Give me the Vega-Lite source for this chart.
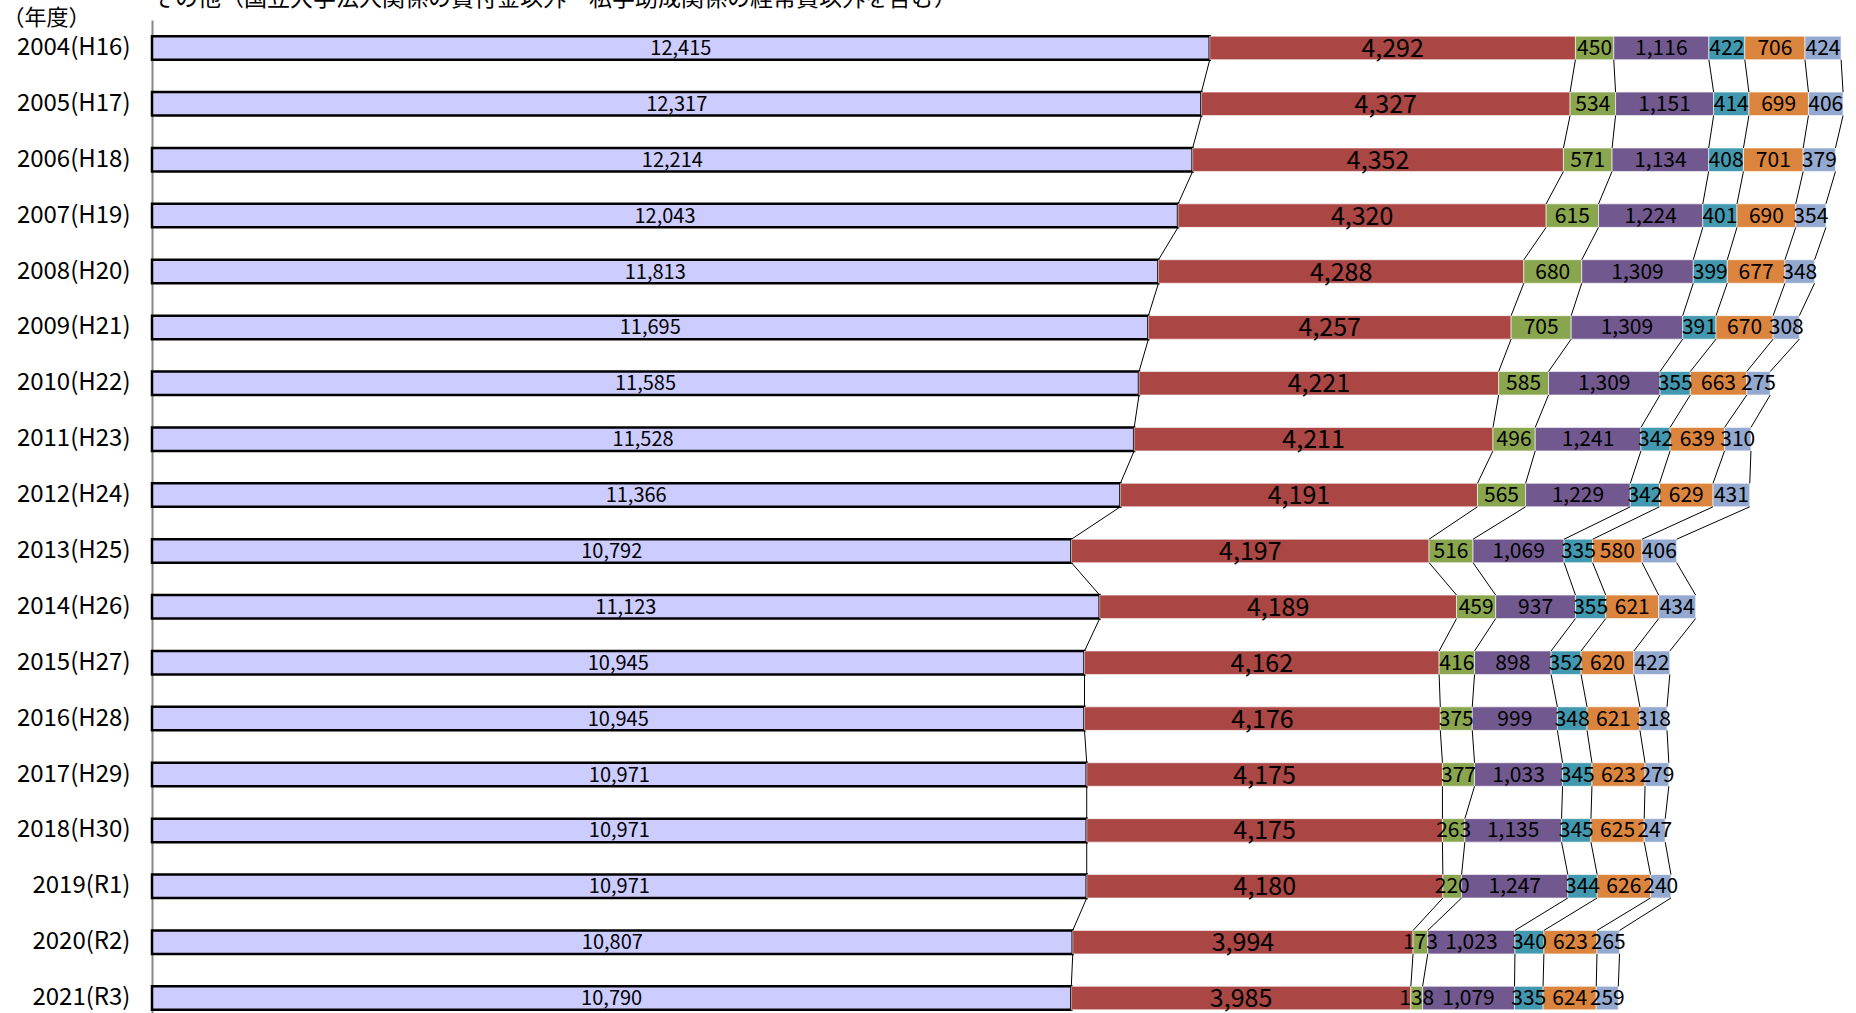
{
  "$schema": "https://vega.github.io/schema/vega-lite/v6.json",
  "autosize": {"type": "none"},
  "width": 1704,
  "height": 993,
  "padding": {"left": 152, "top": 20, "right": 0, "bottom": 0},
  "background": "#ffffff",
  "config": {
    "view": {"stroke": null},
    "font": "Noto Sans CJK JP",
    "text": {"font": "Noto Sans CJK JP"},
    "axisY": {
      "titleAngle": 0,
      "titleX": -150,
      "titleY": -3,
      "titleAlign": "left",
      "titleBaseline": "middle",
      "titleFont": "Noto Sans CJK JP",
      "titleFontSize": 22,
      "titleFontWeight": "normal",
      "titleColor": "#000000",
      "labelFont": "Noto Sans CJK JP",
      "labelFontSize": 24,
      "labelColor": "#000000",
      "labelPadding": 22,
      "ticks": false,
      "grid": false,
      "domainColor": "#888888",
      "domainWidth": 2
    }
  },
  "title": {
    "text": "その他（国立大学法人関係の貸付金以外・私学助成関係の経常費以外を含む）",
    "anchor": "start",
    "frame": "group",
    "font": "Noto Sans CJK JP",
    "fontSize": 23,
    "fontWeight": "normal",
    "color": "#000000",
    "baseline": "alphabetic",
    "offset": 0,
    "dy": 23
  },
  "data": {
    "values": [
      {"year": "2004(H16)", "cat": "s1", "value": 12415}, {"year": "2004(H16)", "cat": "s2", "value": 4292}, {"year": "2004(H16)", "cat": "s3", "value": 450}, {"year": "2004(H16)", "cat": "s4", "value": 1116}, {"year": "2004(H16)", "cat": "s5", "value": 422}, {"year": "2004(H16)", "cat": "s6", "value": 706}, {"year": "2004(H16)", "cat": "s7", "value": 424},
      {"year": "2005(H17)", "cat": "s1", "value": 12317}, {"year": "2005(H17)", "cat": "s2", "value": 4327}, {"year": "2005(H17)", "cat": "s3", "value": 534}, {"year": "2005(H17)", "cat": "s4", "value": 1151}, {"year": "2005(H17)", "cat": "s5", "value": 414}, {"year": "2005(H17)", "cat": "s6", "value": 699}, {"year": "2005(H17)", "cat": "s7", "value": 406},
      {"year": "2006(H18)", "cat": "s1", "value": 12214}, {"year": "2006(H18)", "cat": "s2", "value": 4352}, {"year": "2006(H18)", "cat": "s3", "value": 571}, {"year": "2006(H18)", "cat": "s4", "value": 1134}, {"year": "2006(H18)", "cat": "s5", "value": 408}, {"year": "2006(H18)", "cat": "s6", "value": 701}, {"year": "2006(H18)", "cat": "s7", "value": 379},
      {"year": "2007(H19)", "cat": "s1", "value": 12043}, {"year": "2007(H19)", "cat": "s2", "value": 4320}, {"year": "2007(H19)", "cat": "s3", "value": 615}, {"year": "2007(H19)", "cat": "s4", "value": 1224}, {"year": "2007(H19)", "cat": "s5", "value": 401}, {"year": "2007(H19)", "cat": "s6", "value": 690}, {"year": "2007(H19)", "cat": "s7", "value": 354},
      {"year": "2008(H20)", "cat": "s1", "value": 11813}, {"year": "2008(H20)", "cat": "s2", "value": 4288}, {"year": "2008(H20)", "cat": "s3", "value": 680}, {"year": "2008(H20)", "cat": "s4", "value": 1309}, {"year": "2008(H20)", "cat": "s5", "value": 399}, {"year": "2008(H20)", "cat": "s6", "value": 677}, {"year": "2008(H20)", "cat": "s7", "value": 348},
      {"year": "2009(H21)", "cat": "s1", "value": 11695}, {"year": "2009(H21)", "cat": "s2", "value": 4257}, {"year": "2009(H21)", "cat": "s3", "value": 705}, {"year": "2009(H21)", "cat": "s4", "value": 1309}, {"year": "2009(H21)", "cat": "s5", "value": 391}, {"year": "2009(H21)", "cat": "s6", "value": 670}, {"year": "2009(H21)", "cat": "s7", "value": 308},
      {"year": "2010(H22)", "cat": "s1", "value": 11585}, {"year": "2010(H22)", "cat": "s2", "value": 4221}, {"year": "2010(H22)", "cat": "s3", "value": 585}, {"year": "2010(H22)", "cat": "s4", "value": 1309}, {"year": "2010(H22)", "cat": "s5", "value": 355}, {"year": "2010(H22)", "cat": "s6", "value": 663}, {"year": "2010(H22)", "cat": "s7", "value": 275},
      {"year": "2011(H23)", "cat": "s1", "value": 11528}, {"year": "2011(H23)", "cat": "s2", "value": 4211}, {"year": "2011(H23)", "cat": "s3", "value": 496}, {"year": "2011(H23)", "cat": "s4", "value": 1241}, {"year": "2011(H23)", "cat": "s5", "value": 342}, {"year": "2011(H23)", "cat": "s6", "value": 639}, {"year": "2011(H23)", "cat": "s7", "value": 310},
      {"year": "2012(H24)", "cat": "s1", "value": 11366}, {"year": "2012(H24)", "cat": "s2", "value": 4191}, {"year": "2012(H24)", "cat": "s3", "value": 565}, {"year": "2012(H24)", "cat": "s4", "value": 1229}, {"year": "2012(H24)", "cat": "s5", "value": 342}, {"year": "2012(H24)", "cat": "s6", "value": 629}, {"year": "2012(H24)", "cat": "s7", "value": 431},
      {"year": "2013(H25)", "cat": "s1", "value": 10792}, {"year": "2013(H25)", "cat": "s2", "value": 4197}, {"year": "2013(H25)", "cat": "s3", "value": 516}, {"year": "2013(H25)", "cat": "s4", "value": 1069}, {"year": "2013(H25)", "cat": "s5", "value": 335}, {"year": "2013(H25)", "cat": "s6", "value": 580}, {"year": "2013(H25)", "cat": "s7", "value": 406},
      {"year": "2014(H26)", "cat": "s1", "value": 11123}, {"year": "2014(H26)", "cat": "s2", "value": 4189}, {"year": "2014(H26)", "cat": "s3", "value": 459}, {"year": "2014(H26)", "cat": "s4", "value": 937}, {"year": "2014(H26)", "cat": "s5", "value": 355}, {"year": "2014(H26)", "cat": "s6", "value": 621}, {"year": "2014(H26)", "cat": "s7", "value": 434},
      {"year": "2015(H27)", "cat": "s1", "value": 10945}, {"year": "2015(H27)", "cat": "s2", "value": 4162}, {"year": "2015(H27)", "cat": "s3", "value": 416}, {"year": "2015(H27)", "cat": "s4", "value": 898}, {"year": "2015(H27)", "cat": "s5", "value": 352}, {"year": "2015(H27)", "cat": "s6", "value": 620}, {"year": "2015(H27)", "cat": "s7", "value": 422},
      {"year": "2016(H28)", "cat": "s1", "value": 10945}, {"year": "2016(H28)", "cat": "s2", "value": 4176}, {"year": "2016(H28)", "cat": "s3", "value": 375}, {"year": "2016(H28)", "cat": "s4", "value": 999}, {"year": "2016(H28)", "cat": "s5", "value": 348}, {"year": "2016(H28)", "cat": "s6", "value": 621}, {"year": "2016(H28)", "cat": "s7", "value": 318},
      {"year": "2017(H29)", "cat": "s1", "value": 10971}, {"year": "2017(H29)", "cat": "s2", "value": 4175}, {"year": "2017(H29)", "cat": "s3", "value": 377}, {"year": "2017(H29)", "cat": "s4", "value": 1033}, {"year": "2017(H29)", "cat": "s5", "value": 345}, {"year": "2017(H29)", "cat": "s6", "value": 623}, {"year": "2017(H29)", "cat": "s7", "value": 279},
      {"year": "2018(H30)", "cat": "s1", "value": 10971}, {"year": "2018(H30)", "cat": "s2", "value": 4175}, {"year": "2018(H30)", "cat": "s3", "value": 263}, {"year": "2018(H30)", "cat": "s4", "value": 1135}, {"year": "2018(H30)", "cat": "s5", "value": 345}, {"year": "2018(H30)", "cat": "s6", "value": 625}, {"year": "2018(H30)", "cat": "s7", "value": 247},
      {"year": "2019(R1)", "cat": "s1", "value": 10971}, {"year": "2019(R1)", "cat": "s2", "value": 4180}, {"year": "2019(R1)", "cat": "s3", "value": 220}, {"year": "2019(R1)", "cat": "s4", "value": 1247}, {"year": "2019(R1)", "cat": "s5", "value": 344}, {"year": "2019(R1)", "cat": "s6", "value": 626}, {"year": "2019(R1)", "cat": "s7", "value": 240},
      {"year": "2020(R2)", "cat": "s1", "value": 10807}, {"year": "2020(R2)", "cat": "s2", "value": 3994}, {"year": "2020(R2)", "cat": "s3", "value": 173}, {"year": "2020(R2)", "cat": "s4", "value": 1023}, {"year": "2020(R2)", "cat": "s5", "value": 340}, {"year": "2020(R2)", "cat": "s6", "value": 623}, {"year": "2020(R2)", "cat": "s7", "value": 265},
      {"year": "2021(R3)", "cat": "s1", "value": 10790}, {"year": "2021(R3)", "cat": "s2", "value": 3985}, {"year": "2021(R3)", "cat": "s3", "value": 138}, {"year": "2021(R3)", "cat": "s4", "value": 1079}, {"year": "2021(R3)", "cat": "s5", "value": 335}, {"year": "2021(R3)", "cat": "s6", "value": 624}, {"year": "2021(R3)", "cat": "s7", "value": 259}
    ]
  },
  "transform": [
    {"stack": "value", "groupby": ["year"], "sort": [{"field": "cat", "order": "ascending"}], "as": ["v0", "v1"]}
  ],
  "encoding": {
    "y": {
      "field": "year",
      "type": "nominal",
      "sort": "ascending",
      "title": "（年度）",
      "scale": {"type": "band", "range": [0, 1006], "paddingInner": 0.58, "paddingOuter": 0.29}
    }
  },
  "layer": [
    {
      "mark": {"type": "bar"},
      "encoding": {
        "x": {"field": "v0", "type": "quantitative", "scale": {"domain": [0, 20000], "nice": false, "zero": true}, "axis": null},
        "x2": {"field": "v1"},
        "color": {
          "field": "cat",
          "type": "nominal",
          "scale": {
            "domain": ["s1", "s2", "s3", "s4", "s5", "s6", "s7"],
            "range": ["#CCCCFF", "#AA4643", "#89A54E", "#71588F", "#4198AF", "#DB843D", "#93A9CF"]
          },
          "legend": null
        },
        "stroke": {"condition": {"test": "datum.cat === 's1'", "value": "#000000"}, "value": "#ffffff"},
        "strokeWidth": {"condition": {"test": "datum.cat === 's1'", "value": 2.5}, "value": 0.6}
      }
    },
    {
      "transform": [{"calculate": "(datum.v0 + datum.v1) / 2", "as": "mid"}],
      "mark": {"type": "text", "align": "center", "baseline": "middle", "dy": 1, "color": "#000000"},
      "encoding": {
        "x": {"field": "mid", "type": "quantitative"},
        "text": {"field": "value", "type": "quantitative", "format": ",d"},
        "size": {
          "condition": [
            {"test": "datum.cat === 's1'", "value": 20},
            {"test": "datum.cat === 's2'", "value": 25}
          ],
          "value": 21
        }
      }
    },
    {
      "transform": [
        {"window": [{"op": "lead", "field": "v1", "as": "nv1"}, {"op": "lead", "field": "year", "as": "nyear"}], "groupby": ["cat"], "sort": [{"field": "year", "order": "ascending"}]},
        {"filter": "datum.nyear != null"}
      ],
      "mark": {"type": "rule", "color": "#000000", "strokeWidth": 1},
      "encoding": {
        "x": {"field": "v1", "type": "quantitative"},
        "x2": {"field": "nv1"},
        "y": {"field": "year", "type": "nominal", "sort": "ascending", "title": "（年度）", "bandPosition": 1},
        "y2": {"field": "nyear", "bandPosition": 0}
      }
    }
  ]
}
